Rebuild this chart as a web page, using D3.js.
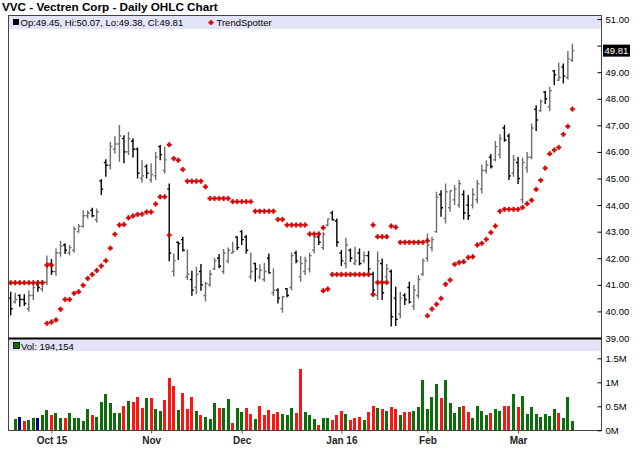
<!DOCTYPE html>
<html>
<head>
<meta charset="utf-8">
<script src="https://cdn.jsdelivr.net/npm/d3@7"></script>
<style>
  body { margin: 0; background: #fff; }
  svg { display: block; font-family: "Liberation Sans", Arial, sans-serif; }
</style>
</head>
<body>
<svg id="chart" width="640" height="468"></svg>
<script>
// daily bars, Sep 18 2015 .. Mar 17 2016 (index 0..124)
const opens = [40.5,40.35,40.6,40.45,40.1,40.6,41.0,40.85,41.1,41.8, 41.5,42.2,42.5,42.2,42.3,43.0,43.2,43.6,43.8,43.45,
  44.9,45.6,45.5,46.1,46.3,46.5,46.0,46.4,46.1,45.0, 45.45,44.95,45.1,46.2,45.3,44.6,41.5,42.6,42.7,41.3,
  41.2,40.9,41.5,40.6,41.0,41.6,42.0,41.5,41.9,42.2, 42.8,43.0,42.8,41.3,41.8,41.3,41.2,42.0,40.7,40.8,
  40.1,40.85,40.9,42.2,41.3,41.5,41.6,42.3,42.8,42.4, 43.25,43.7,43.4,42.2,41.8,42.3,41.8,42.2,41.9,42.1,
  41.4,40.6,41.8,41.3,41.5,40.5,39.9,40.6,40.9,40.2, 40.6,41.4,42.0,42.4,43.0,44.4,43.5,43.9,44.2,44.0,
  44.4,44.0,44.0,44.2,44.6,45.3,45.8,45.7,45.9,46.9, 46.6,45.2,45.6,44.2,45.4,45.8,47.6,47.55,48.25,47.7,
  49.05,48.7,49.2,48.8,49.45];
const highs = [40.74,40.70,40.65,40.65,40.80,41.05,41.16,41.18,42.10,41.97, 42.37,42.66,42.56,42.50,43.19,43.29,43.81,43.81,43.90,43.87,
  44.98,45.72,46.38,46.59,47.01,46.63,46.76,46.51,46.17,45.69, 45.54,45.57,46.00,46.26,46.19,44.81,42.18,42.62,42.81,42.33,
  41.53,41.68,41.78,41.12,41.56,42.02,42.16,42.35,42.40,42.62, 42.83,43.06,42.87,42.22,41.83,41.77,41.83,42.18,41.62,40.87,
  40.58,40.87,42.22,42.28,42.08,42.06,42.21,42.93,42.93,43.00, 43.50,43.79,43.50,42.31,42.77,42.37,42.43,42.37,42.25,42.27,
  41.49,42.25,41.99,41.78,41.58,40.93,40.74,40.68,41.12,40.99, 41.37,41.99,42.93,42.81,44.50,44.56,44.81,44.56,44.75,44.94,
  44.56,44.38,44.63,44.94,45.53,45.69,45.92,46.41,46.66,47.01, 46.69,45.88,45.82,45.78,46.00,47.07,47.76,47.97,48.29,48.45,
  49.08,49.36,49.33,49.80,50.07];
const lows = [39.86,40.30,40.18,40.20,39.99,40.43,40.74,40.74,40.99,41.37, 41.34,42.06,42.16,42.10,42.21,42.96,43.16,43.50,43.54,43.34,
  44.38,45.07,45.34,45.94,45.63,45.57,45.88,45.79,45.00,44.84, 45.00,44.84,44.94,45.69,45.19,41.89,41.31,41.93,42.25,41.18,
  40.59,40.65,40.78,40.37,40.93,41.56,41.62,41.41,41.81,42.18, 42.31,42.50,42.18,41.21,41.12,41.21,41.12,41.43,40.58,40.30,
  39.95,40.53,40.80,41.81,41.12,41.37,41.46,42.18,42.50,42.31, 43.19,43.42,42.43,41.71,41.62,41.87,41.74,41.74,41.81,41.43,
  40.58,40.43,40.43,41.18,39.43,39.45,39.74,40.24,40.30,40.05, 40.49,41.33,41.87,42.25,42.96,43.56,43.31,43.75,44.00,43.90,
  43.46,43.44,43.87,44.06,44.44,45.19,45.38,45.65,45.75,46.38, 44.94,45.07,44.79,44.06,45.22,45.72,46.79,47.51,47.80,47.53,
  48.51,48.67,48.57,48.72,49.38];
const closes = [40.1,40.45,40.45,40.3,40.6,40.9,40.9,41.1,41.8,41.5, 42.2,42.45,42.3,42.4,43.1,43.2,43.6,43.7,43.6,43.75,
  44.6,45.5,46.2,46.3,46.6,46.0,46.5,46.1,45.2,45.1, 45.2,45.15,45.8,45.9,45.7,42.2,41.9,42.55,42.3,41.4,
  40.8,41.4,41.0,41.05,41.4,41.9,41.7,42.2,42.3,42.25, 42.4,42.7,42.3,41.5,41.6,41.55,41.5,41.45,40.8,40.5,
  40.55,40.6,42.1,41.9,41.8,41.9,42.1,42.8,42.6,42.9, 43.48,43.45,42.6,41.9,42.5,42.0,41.9,41.8,42.1,41.6,
  40.8,41.9,40.7,41.6,39.8,39.7,40.5,40.45,40.35,40.8, 41.2,41.9,42.5,42.7,44.3,43.9,44.5,44.54,44.6,44.8,
  43.7,43.6,44.4,44.8,45.3,45.5,45.45,46.2,46.5,46.45, 45.1,45.7,45.0,45.6,45.8,46.9,47.2,47.9,48.0,48.3,
  48.9,48.8,48.85,49.5,49.81];
const volumes = [null,229000,271000,194000,215000,264000,250000,319000,424000,319000, 354000,250000,264000,354000,264000,250000,194000,437000,319000,285000,
  597000,757000,576000,368000,368000,507000,611000,597000,687000,458000, 667000,667000,437000,403000,632000,1083000,930000,424000,785000,437000,
  687000,403000,319000,285000,229000,576000,458000,458000,646000,160000, 470000,375000,458000,340000,230000,507000,320000,417000,340000,375000,
  340000,320000,470000,360000,1280000,375000,319000,229000,110000,264000, 250000,215000,319000,403000,340000,215000,250000,285000,215000,380000,
  507000,458000,437000,403000,493000,437000,319000,389000,380000,403000, 479000,1050000,437000,687000,965000,667000,1050000,576000,368000,479000,
  507000,389000,264000,507000,403000,319000,361000,437000,403000,507000, 507000,757000,493000,715000,340000,479000,340000,270000,340000,306000,
  451000,368000,264000,687000,194154];
const trendSpot = [41.08,41.08,41.08,41.08,41.08,41.08,41.08,41.08,39.55,39.60, 39.68,40.08,40.45,40.45,40.68,40.74,40.98,41.24,41.39,41.54,
  41.71,41.91,42.38,42.90,43.25,43.27,43.52,43.59,43.65,43.66, 43.74,43.74,44.04,44.31,44.31,46.27,45.75,45.69,45.34,44.90,
  44.90,44.90,44.90,44.69,44.25,44.25,44.25,44.25,44.25,44.13, 44.13,44.13,44.13,44.13,43.77,43.77,43.77,43.77,43.77,43.46,
  43.46,43.25,43.25,43.25,43.25,43.25,42.91,42.91,42.91,43.15, 40.84,41.39,41.39,41.39,41.39,41.39,41.39,41.39,41.39,41.39,
  43.25,42.81,42.81,42.81,43.21,43.17,42.60,42.60,42.60,42.60, 42.60,42.60,42.66,40.09,40.27,40.49,41.02,41.18,41.77,41.84,
  41.87,42.03,42.06,42.50,42.56,42.71,42.97,43.21,43.77,43.84, 43.84,43.84,43.84,43.91,44.05,44.18,44.59,44.93,45.39,45.93,
  46.07,46.17,46.66,46.96,47.61];
// second TrendSpotter dot drawn on days where the signal flips
const trendAltIdx = [8, 9, 35, 69, 80, 81, 82, 83, 92];
const trendAltVal = [41.74, 41.74, 42.87, 40.78, 40.64, 41.09, 41.09, 41.09, 39.84];

const tickIdx = [9, 31, 51, 73, 92, 112];
const tickLabels = ["Oct 15", "Nov", "Dec", "Jan 16", "Feb", "Mar"];
const priceTicks = [39, 40, 41, 42, 43, 44, 45, 46, 47, 48, 49, 50, 51];
const volTicks = [0, 500000, 1000000, 1500000];
const volTickLabels = ["0M", "0.5M", "1M", "1.5M"];

const svg = d3.select("#chart");
const left = 8.5, right = 601.5, pTop = 15.5, pBot = 338.5, vBot = 430.5;
const last = closes.length - 1;

const x = d3.scaleLinear().domain([0, 124]).range([10.7, 572.4]);
const yP = d3.scaleLinear().domain([39, 51]).range([338, 19]);
const yV = d3.scaleLinear().domain([0, 1500000]).range([430.3, 358.3]);

// title
svg.append("text").attr("x", 2).attr("y", 11)
  .style("font-size", "11.7px").style("font-weight", "bold")
  .text("VVC - Vectren Corp - Daily OHLC Chart");

// legend bands
svg.append("rect").attr("x", left).attr("y", pTop).attr("width", right - left).attr("height", 13.5).attr("fill", "#e4e4f8");
svg.append("rect").attr("x", left).attr("y", pBot + 1).attr("width", right - left).attr("height", 11.5).attr("fill", "#e4e4f8");

// volume bars
const volDir = (i) => closes[i] > closes[i - 1] ? "#0b6e0b" : closes[i] < closes[i - 1] ? "#ff1414" : "#000080";
svg.append("g").selectAll("rect")
  .data(volumes.map((v, i) => ({ v, i })).filter(d => d.v != null))
  .join("rect")
  .attr("x", d => x(d.i) - 1.5)
  .attr("width", 3)
  .attr("y", d => yV(d.v))
  .attr("height", d => yV(0) - yV(d.v))
  .attr("fill", d => volDir(d.i))
  .attr("shape-rendering", "crispEdges");

// OHLC bars
svg.append("g").selectAll("path")
  .data(d3.range(closes.length))
  .join("path")
  .attr("d", i => {
    const cx = x(i);
    return "M" + cx + "," + yP(highs[i]) + "V" + yP(lows[i]) +
      "M" + (cx - 2) + "," + yP(opens[i]) + "H" + cx +
      "M" + cx + "," + yP(closes[i]) + "H" + (cx + 2);
  })
  .attr("fill", "none")
  .attr("stroke", i => closes[i] < opens[i] ? "#000" : "#6e6e6e")
  .attr("stroke-width", 1.4);

// TrendSpotter
const cross = d3.symbol().type(d3.symbolCross).size(11);
const tsPts = trendSpot.map((v, i) => [i, v]).concat(trendAltIdx.map((k, j) => [k, trendAltVal[j]]));
svg.append("g").selectAll("path")
  .data(tsPts)
  .join("path")
  .attr("d", cross)
  .attr("transform", d => "translate(" + x(d[0]) + "," + yP(d[1]) + ")")
  .attr("fill", "#d40000")
  .attr("stroke", "#d40000")
  .attr("stroke-width", 0.6)
  .attr("stroke-linejoin", "round");

// frames
svg.append("rect").attr("x", left).attr("y", pTop).attr("width", right - left).attr("height", vBot - pTop)
  .attr("fill", "none").attr("stroke", "#444");
svg.append("line").attr("x1", left).attr("x2", right).attr("y1", pBot).attr("y2", pBot)
  .attr("stroke", "#000").attr("stroke-width", 2);

// price axis
const lastY = yP(closes[last]);
const pAxis = svg.append("g").attr("transform", "translate(" + right + ",0)")
  .call(d3.axisRight(yP).tickValues(priceTicks).tickFormat(d3.format(".2f")).tickSize(-4).tickPadding(4));
pAxis.select(".domain").remove();
pAxis.selectAll("text").style("font-size", "9.5px").attr("fill", "#000")
  .filter(d => Math.abs(yP(d) - lastY) < 9).remove();

// last price marker
svg.append("rect").attr("x", right + 1.5).attr("y", lastY - 6).attr("width", 27).attr("height", 12).attr("fill", "#000");
svg.append("text").attr("x", right + 3).attr("y", lastY).attr("dy", "0.34em")
  .style("font-size", "9.5px").attr("fill", "#fff").text(d3.format(".2f")(closes[last]));

// volume axis
const vAxis = svg.append("g").attr("transform", "translate(" + right + ",0)")
  .call(d3.axisRight(yV).tickValues(volTicks).tickFormat((d, i) => volTickLabels[i]).tickSize(-4).tickPadding(4));
vAxis.select(".domain").remove();
vAxis.selectAll("text").style("font-size", "9.5px").attr("fill", "#000");

// date axis
const xAxis = svg.append("g").attr("transform", "translate(0," + vBot + ")")
  .call(d3.axisBottom(x).tickValues(tickIdx).tickFormat((d, i) => tickLabels[i]).tickSize(3).tickPadding(3));
xAxis.select(".domain").remove();
xAxis.selectAll("line").attr("stroke", "#555");
xAxis.selectAll("text").style("font-size", "10px").style("font-weight", "bold").attr("fill", "#222");

// legends
const fmt2 = d3.format(".2f");
svg.append("rect").attr("x", 13).attr("y", 19).attr("width", 6).attr("height", 6).attr("fill", "#000");
svg.append("text").attr("x", 20.5).attr("y", 26).style("font-size", "9.5px")
  .text("Op:" + fmt2(opens[last]) + ", Hi:" + fmt2(highs[last]) + ", Lo:" + fmt2(lows[last]) + ", Cl:" + fmt2(closes[last]));
svg.append("path").attr("d", cross).attr("transform", "translate(211,22.5)")
  .attr("fill", "#d40000").attr("stroke", "#d40000").attr("stroke-width", 0.6);
svg.append("text").attr("x", 216.5).attr("y", 26).style("font-size", "9.5px").text("TrendSpotter");

svg.append("rect").attr("x", 13.5).attr("y", 342.5).attr("width", 6).attr("height", 6)
  .attr("fill", "#0b6e0b").attr("stroke", "#000").attr("stroke-width", 0.8);
svg.append("text").attr("x", 21).attr("y", 349.5).style("font-size", "9.5px")
  .text("Vol: " + d3.format(",")(volumes[last]));
</script>
</body>
</html>
